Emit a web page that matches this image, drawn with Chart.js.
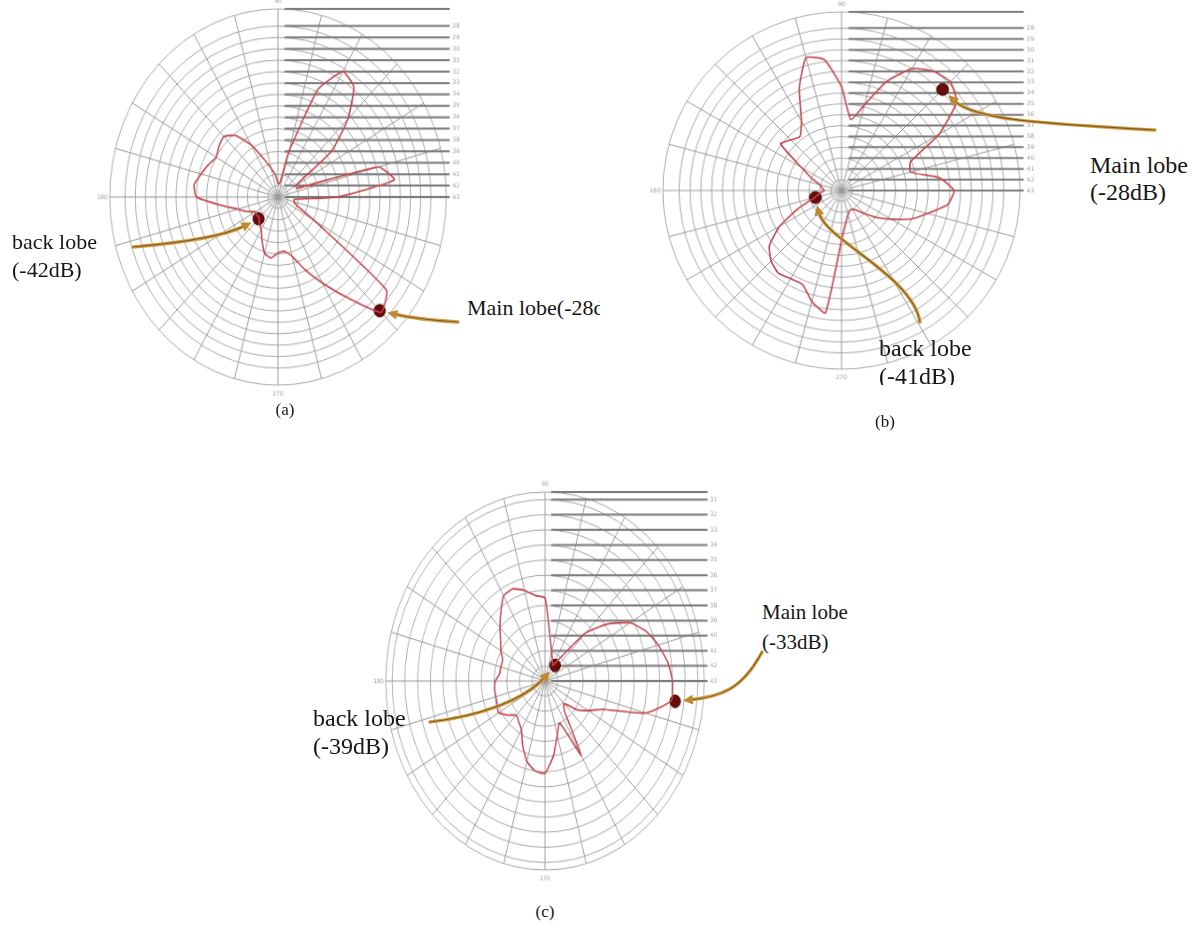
<!DOCTYPE html>
<html>
<head>
<meta charset="utf-8">
<script src="https://cdn.jsdelivr.net/npm/chart.js@4.4.1/dist/chart.umd.min.js"></script>
<style>
  html, body { margin: 0; padding: 0; background: #fff; }
  #page { position: relative; width: 1201px; height: 941px; overflow: hidden; font-family: "Liberation Serif", "DejaVu Serif", serif; color: #161616; }
  canvas.polar { position: absolute; }
  .lbl { position: absolute; white-space: nowrap; }
  .clip { position: absolute; overflow: hidden; }
  .cap { position: absolute; width: 40px; text-align: center; font-size: 17px; }
  #arrows { position: absolute; left: 0; top: 0; pointer-events: none; }
</style>
</head>
<body>
<div id="page">
  <canvas id="chartA" class="polar" width="400" height="400"></canvas>
  <canvas id="chartB" class="polar" width="400" height="400"></canvas>
  <canvas id="chartC" class="polar" width="400" height="400"></canvas>

  <div class="lbl" style="left:12px; top:228px; font-size:22px; line-height:28px;">back lobe<br>(-42dB)</div>
  <div class="clip" style="left:467px; top:292px; width:133px; height:32px;">
    <div class="lbl" style="left:0; top:2px; font-size:22px; line-height:28px;">Main lobe(-28dB)</div>
  </div>
  <div class="cap" style="left:265px; top:400px;">(a)</div>

  <div class="lbl" style="left:1090px; top:152px; font-size:24px; line-height:27px;">Main lobe<br>(-28dB)</div>
  <div class="clip" style="left:875px; top:330px; width:200px; height:55px;">
    <div class="lbl" style="left:4px; top:4px; font-size:24px; line-height:28px;">back lobe<br>(-41dB)</div>
  </div>
  <div class="cap" style="left:865px; top:412px;">(b)</div>

  <div class="lbl" style="left:313px; top:704px; font-size:24px; line-height:28px;">back lobe<br>(-39dB)</div>
  <div class="lbl" style="left:762px; top:597px; font-size:21px; line-height:30px;">Main lobe<br>(-33dB)</div>
  <div class="cap" style="left:525px; top:902px;">(c)</div>

  <canvas id="arrows" width="1201" height="941"></canvas>
</div>

<script>
// angle of each sample, degrees counter-clockwise from 0 (east)
const angles = [0, 7.5, 15, 22.5, 30, 37.5, 45, 52.5, 60, 67.5, 75, 82.5,
                90, 97.5, 105, 112.5, 120, 127.5, 135, 142.5, 150, 157.5, 165, 172.5,
                180, 187.5, 195, 202.5, 210, 217.5, 225, 232.5, 240, 247.5, 255, 262.5,
                270, 277.5, 285, 292.5, 300, 307.5, 315, 322.5, 330, 337.5, 345, 352.5];

// pattern (a), dB
const gainA = [-37.2, -31.5, -32.8, -41.0, -41.0, -36.4, -33.3, -30.8, -30.3, -32.8, -38.9, -41.8,
               -41.8, -41.0, -40.4, -39.4, -37.7, -36.2, -35.5, -35.7, -36.0, -35.6, -35.2, -34.7,
               -35.0, -37.4, -38.9, -39.7, -40.4, -40.4, -40.4, -40.0, -39.7, -38.9, -37.9, -37.6,
               -38.1, -38.2, -37.6, -36.1, -34.3, -31.9, -28.7, -29.6, -38.9, -40.9, -41.4, -41.4];
// pattern (b), dB
const gainB = [-32.6, -33.9, -36.4, -36.1, -32.6, -29.6, -28.8, -29.1, -30.0, -32.1, -34.8, -36.4,
               -33.4, -30.8, -30.3, -32.8, -35.6, -36.7, -36.4, -35.9, -38.7, -40.0, -40.9, -41.2,
               -41.4, -41.0, -40.4, -38.7, -36.4, -34.6, -33.8, -33.4, -33.6, -33.6, -32.4, -31.6,
               -38.4, -40.0, -40.7, -41.0, -41.0, -40.7, -40.0, -38.9, -37.7, -36.1, -34.8, -33.1];
// pattern (c), dB
const gainC = [-33.0, -33.3, -33.8, -34.4, -35.3, -36.8, -38.5, -41.1, -41.8, -41.5, -41.0, -40.0,
               -37.5, -37.3, -36.8, -36.4, -36.5, -37.3, -38.0, -38.6, -39.0, -39.4, -39.4, -39.4,
               -39.1, -39.0, -39.0, -38.9, -38.8, -39.3, -39.8, -39.6, -39.3, -38.4, -37.5, -37.0,
               -36.9, -38.0, -39.3, -40.0, -37.3, -40.5, -40.9, -39.9, -39.1, -38.1, -34.8, -33.0];

// marked lobes: [main lobe, back lobe]
const markAnglesA = [315, 225];
const markValuesA = [-28.9, -40.3];
const markAnglesB = [45, 195];
const markValuesB = [-29.8, -40.5];
const markAnglesC = [352.5, 52.5];
const markValuesC = [-32.7, -41.7];

// radial ranges (dB): centre, outer ring
const rangeA = [-43, -26.5];
const rangeB = [-43, -26.5];
const rangeC = [-43, -30.5];

// where each plot sits on the page (centre and radii in px)
const layoutA = { cx: 278, cy: 197, rx: 168, ry: 188 };
const layoutB = { cx: 841.5, cy: 190.5, rx: 179, ry: 179 };
const layoutC = { cx: 545, cy: 681, rx: 159, ry: 189 };

const SIZE = 400, PAD = 20, RAD = SIZE / 2 - PAD;

// radar goes clockwise, the pattern counter-clockwise
function toChartOrder(arr) {
    return arr.map((v, i) => arr[(arr.length - i) % arr.length]);
}

function markerData(markAngles, markValues) {
    const out = angles.map(() => null);
    markAngles.forEach((a, k) => { out[angles.indexOf(a)] = markValues[k]; });
    return toChartOrder(out);
}

// horizontal level lines in the upper right quarter, plus the 90/180/270 marks
const levelLines = {
    id: 'levelLines',
    beforeDatasetsDraw(chart) {
        const r = chart.scales.r;
        const ctx = chart.ctx;
        const xEnd = r.xCenter + r.drawingArea * 1.02;
        ctx.save();
        r.ticks.forEach(t => {
            const y = r.yCenter - r.getDistanceFromCenterForValue(t.value);
            ctx.strokeStyle = '#7d7d7d';
            ctx.lineWidth = 2;
            ctx.beginPath();
            ctx.moveTo(r.xCenter + 7, y);
            ctx.lineTo(xEnd, y);
            ctx.stroke();
            if (Number.isInteger(t.value)) {
                ctx.fillStyle = '#9d9d9d';
                ctx.font = '6px "DejaVu Sans"';
                ctx.textBaseline = 'middle';
                ctx.fillText(String(-t.value), xEnd + 3, y);
            }
        });
        ctx.fillStyle = '#9d9d9d';
        ctx.font = '6px "DejaVu Sans"';
        ctx.textAlign = 'center';
        ctx.textBaseline = 'middle';
        const labels = chart.data.labels;
        ['90', '180', '270'].forEach(name => {
            const p = r.getPointPosition(labels.indexOf(name), r.drawingArea + 8);
            ctx.fillText(name, p.x, p.y);
        });
        ctx.restore();
    }
};

function makeChart(id, gain, markAngles, markValues, range, lay) {
    const canvas = document.getElementById(id);
    const sx = lay.rx / RAD, sy = lay.ry / RAD;
    canvas.style.width = (SIZE * sx) + 'px';
    canvas.style.height = (SIZE * sy) + 'px';
    canvas.style.left = (lay.cx - SIZE / 2 * sx) + 'px';
    canvas.style.top = (lay.cy - SIZE / 2 * sy) + 'px';
    const chart = new Chart(canvas, {
        type: 'radar',
        data: {
            labels: toChartOrder(angles).map(String),
            datasets: [{
                data: toChartOrder(gain),
                borderColor: '#c4474d',
                borderWidth: 1.6,
                pointRadius: 0,
                fill: false,
                tension: 0.15
            }, {
                data: markerData(markAngles, markValues),
                showLine: false,
                fill: false,
                pointRadius: 6,
                pointBackgroundColor: '#690b0b',
                pointBorderColor: '#480505',
                pointBorderWidth: 1
            }]
        },
        options: {
            responsive: false,
            animation: false,
            devicePixelRatio: 1,
            layout: { padding: PAD },
            plugins: { legend: { display: false }, tooltip: { enabled: false } },
            scales: {
                r: {
                    min: range[0],
                    max: range[1],
                    startAngle: 90,
                    ticks: { display: false, stepSize: 1 },
                    pointLabels: { display: false },
                    grid: { circular: true, color: '#aaaaaa', lineWidth: 1 },
                    angleLines: { color: '#9c9c9c', lineWidth: ctx => ctx.index % 2 === 0 ? 1 : 0 }
                }
            }
        },
        plugins: [levelLines]
    });
    return { chart, sx, sy, lay };
}

const plotA = makeChart('chartA', gainA, markAnglesA, markValuesA, rangeA, layoutA);
const plotB = makeChart('chartB', gainB, markAnglesB, markValuesB, rangeB, layoutB);
const plotC = makeChart('chartC', gainC, markAnglesC, markValuesC, rangeC, layoutC);

// page position of a marked lobe, read back from the chart
function markerPos(plot, markAngles, k) {
    const idx = toChartOrder(angles).indexOf(markAngles[k]);
    const el = plot.chart.getDatasetMeta(1).data[idx];
    const left = plot.lay.cx - SIZE / 2 * plot.sx;
    const top = plot.lay.cy - SIZE / 2 * plot.sy;
    return { x: left + el.x * plot.sx, y: top + el.y * plot.sy };
}

// annotation arrows: tail near the text, two bend points, head at the marker
const arrows = [
    { plot: plotA, marks: markAnglesA, k: 1, tail: [133, 247], c1: [180, 243], c2: [225, 236] },
    { plot: plotA, marks: markAnglesA, k: 0, tail: [458, 322], c1: [440, 321], c2: [415, 319] },
    { plot: plotB, marks: markAnglesB, k: 0, tail: [1155, 130], c1: [1060, 124], c2: [975, 122] },
    { plot: plotB, marks: markAnglesB, k: 1, tail: [920, 322], c1: [912, 275], c2: [825, 240] },
    { plot: plotC, marks: markAnglesC, k: 1, tail: [430, 722], c1: [480, 716], c2: [525, 700] },
    { plot: plotC, marks: markAnglesC, k: 0, tail: [762, 652], c1: [742, 690], c2: [720, 697] }
];

function drawArrow(ctx, a) {
    const dot = markerPos(a.plot, a.marks, a.k);
    let ux = dot.x - a.c2[0], uy = dot.y - a.c2[1];
    const len = Math.hypot(ux, uy);
    ux /= len; uy /= len;
    const hx = dot.x - ux * 8, hy = dot.y - uy * 8;
    ctx.beginPath();
    ctx.moveTo(a.tail[0], a.tail[1]);
    ctx.bezierCurveTo(a.c1[0], a.c1[1], a.c2[0], a.c2[1], hx - ux * 7, hy - uy * 7);
    ctx.strokeStyle = '#d3a14a';
    ctx.lineWidth = 3.5;
    ctx.stroke();
    ctx.strokeStyle = '#7f5a1e';
    ctx.lineWidth = 1.1;
    ctx.stroke();
    const px = -uy, py = ux;
    ctx.beginPath();
    ctx.moveTo(hx, hy);
    ctx.lineTo(hx - ux * 10 + px * 5, hy - uy * 10 + py * 5);
    ctx.lineTo(hx - ux * 10 - px * 5, hy - uy * 10 - py * 5);
    ctx.closePath();
    ctx.fillStyle = '#c08a30';
    ctx.fill();
}

const actx = document.getElementById('arrows').getContext('2d');
actx.lineCap = 'round';
arrows.forEach(a => drawArrow(actx, a));
</script>
</body>
</html>
